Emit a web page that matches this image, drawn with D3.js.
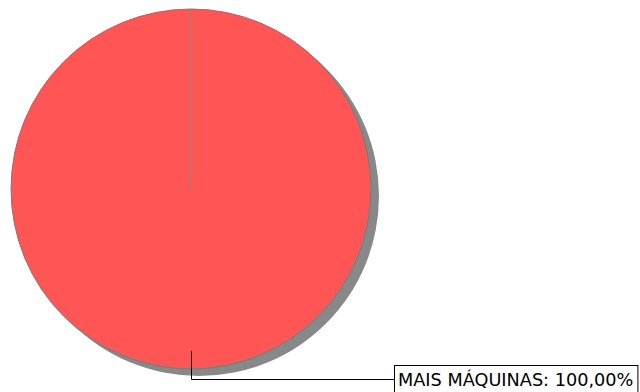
<!DOCTYPE html>
<html>
<head>
<meta charset="utf-8">
<script src="https://cdn.jsdelivr.net/npm/d3@7"></script>
<style>
  html, body { margin: 0; padding: 0; background: #fff; }
  svg { display: block; }
</style>
</head>
<body>
<svg id="chart" width="640" height="392"></svg>
<script>
// Share of answers per category
const categories = ["MAIS MÁQUINAS"];
const values = [100];
const colors = ["#ff5555"];

const width = 640, height = 392;
const cx = 191, cy = 189, radius = 180;

const svg = d3.select("#chart");
const total = d3.sum(values);
const fmt = v => (v / total * 100).toFixed(2).replace(".", ",") + "%";

const pie = d3.pie().sort(null).value(d => d.value);
const arcs = pie(categories.map((c, i) => ({ name: c, value: values[i], color: colors[i] })));
const arc = d3.arc().innerRadius(0).outerRadius(radius);

const g = svg.append("g").attr("transform", `translate(${cx},${cy})`);

// drop shadow
g.append("circle")
  .attr("cx", 8).attr("cy", 7).attr("r", radius)
  .attr("fill", "#888888");

// slices
g.selectAll("path.slice").data(arcs).join("path")
  .attr("class", "slice")
  .attr("d", arc)
  .attr("fill", d => d.data.color)
  .attr("stroke", "#7a7a7a")
  .attr("stroke-width", 1);

// slice boundaries
const rp = (a, r) => [Math.sin(a) * r, -Math.cos(a) * r];
g.selectAll("line.edge").data(arcs).join("line")
  .attr("class", "edge")
  .attr("x1", 0).attr("y1", 0)
  .attr("x2", d => rp(d.startAngle, radius)[0])
  .attr("y2", d => rp(d.startAngle, radius)[1])
  .attr("stroke", "#888888")
  .attr("stroke-width", 1);

// labels with leader lines
arcs.forEach(d => {
  const mid = (d.startAngle + d.endAngle) / 2;
  const p0 = rp(mid, radius * 0.9);
  const p1 = rp(mid, radius + 10);
  const boxX = 394 - cx;
  const label = g.append("g");
  label.append("polyline")
    .attr("points", [[p0[0] + 0.5, p0[1]], [p1[0] + 0.5, p1[1] + 0.5], [boxX, p1[1] + 0.5]].map(p => p.join(",")).join(" "))
    .attr("fill", "none")
    .attr("stroke", "#000")
    .attr("stroke-width", 1);
  const text = label.append("text")
    .attr("x", boxX + 4)
    .attr("y", p1[1] + 7)
    .attr("font-family", "DejaVu Sans")
    .attr("font-size", 17.7)
    .attr("fill", "#000")
    .text(`${d.data.name}: ${fmt(d.data.value)}`);
  const bb = text.node().getBBox();
  label.insert("rect", "text")
    .attr("x", boxX + 0.5)
    .attr("y", p1[1] - 14 + 0.5)
    .attr("width", bb.width + 8)
    .attr("height", 30)
    .attr("fill", "#fff")
    .attr("stroke", "#000")
    .attr("stroke-width", 1);
});
</script>
</body>
</html>
